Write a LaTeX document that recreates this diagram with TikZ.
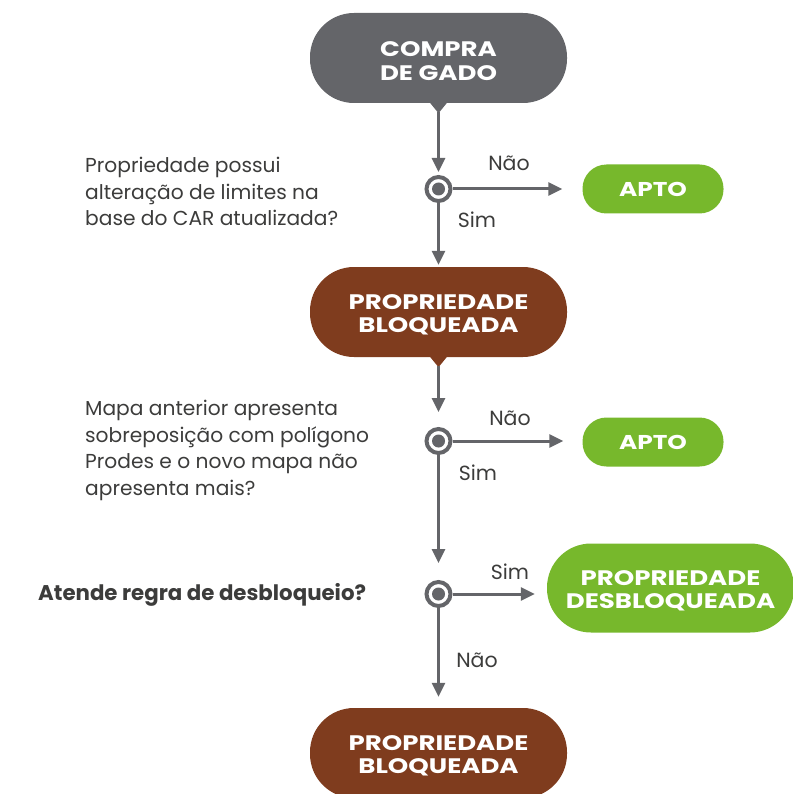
\documentclass[tikz,border=0pt]{standalone}
\usepackage{fontspec}
\setmainfont{Poppins}
\newfontfamily\nodefont[FakeStretch=1.24]{Poppins}
\newcommand\toprule{\rule{0pt}{21pt}}
\usetikzlibrary{arrows.meta,calc}
\definecolor{cgray}{HTML}{646569}
\definecolor{cbrown}{HTML}{7F3C1E}
\definecolor{cgreen}{HTML}{77B82C}
\definecolor{ctext}{HTML}{3C3C3B}
\begin{document}
\begin{tikzpicture}[x=1pt,y=-1pt,
  bubble/.style={rectangle, rounded corners=44pt, minimum width=257pt, minimum height=90pt, inner sep=0pt, text=white, font=\nodefont\fontsize{21}{23.5}\selectfont\bfseries, align=center},
  pill/.style={rectangle, rounded corners=24pt, minimum width=141pt, minimum height=49pt, inner sep=0pt, fill=cgreen, text=white, font=\nodefont\fontsize{20}{23.5}\selectfont\bfseries, align=center},
  arr/.style={draw=cgray, line width=3pt, -{Triangle[length=14pt,width=13pt]}},
  qc/.style={circle, draw=cgray, line width=4pt, fill=white, minimum size=24pt, inner sep=0pt, path picture={\fill[cgray] (path picture bounding box.center) circle (6.5pt);}},
  lab/.style={text=ctext, font=\fontsize{20.2}{26.5}\selectfont, align=left, inner sep=0pt},
  elab/.style={text=ctext, font=\fontsize{20.5}{22}\selectfont, inner sep=0pt},
]
\useasboundingbox (0,0) rectangle (792,794);

% main nodes
\node[bubble, fill=cgray] (c1) at (438.5,58) {\toprule COMPRA\\DE GADO};
\fill[cgray] ($(c1.south)+(-9,-1)$) -- ($(c1.south)+(9,-1)$) -- ($(c1.south)+(0,10)$) -- cycle;
\coordinate (c1tip) at ($(c1.south)+(0,9)$);

\node[qc] (q1) at (438.5,189) {};
\node[pill] (a1) at (653,189) {APTO};

\node[bubble, fill=cbrown] (b1) at (438.5,312) {\toprule PROPRIEDADE\\BLOQUEADA};
\fill[cbrown] ($(b1.south)+(-9,-1)$) -- ($(b1.south)+(9,-1)$) -- ($(b1.south)+(0,10)$) -- cycle;
\coordinate (b1tip) at ($(b1.south)+(0,9)$);

\node[qc] (q2) at (438.5,441) {};
\node[pill] (a2) at (653,442) {APTO};

\node[qc] (q3) at (438.5,594) {};
\node[bubble, fill=cgreen, minimum width=247pt, minimum height=89pt] (d1) at (670.5,588) {\toprule PROPRIEDADE\\DESBLOQUEADA};

\node[bubble, fill=cbrown] (b2) at (438.5,753) {\toprule PROPRIEDADE\\BLOQUEADA};

% connectors
\draw[arr, shorten >=3pt] (c1tip) -- (q1);
\draw[arr, shorten >=20pt] (q1) -- (q1 -| a1.west);
\draw[arr, shorten >=2pt] (q1) -- (b1);
\draw[arr, shorten >=15pt] (b1tip) -- (q2);
\draw[arr, shorten >=19pt] (q2) -- (q2 -| a2.west);
\draw[arr, shorten >=17pt] (q2) -- (q3);
\draw[arr, shorten >=12pt] (q3) -- (q3 -| d1.west);
\draw[arr, shorten >=11pt] (q3) -- (b2);

% edge labels
\node[elab] (n1) at (509,163) {Não};
\node[elab] (s1) at (477,220) {Sim};
\node[elab] (n2) at (510,418) {Não};
\node[elab] (s2) at (478,473) {Sim};
\node[elab] (s3) at (510,572) {Sim};
\node[elab] (n3) at (477,660) {Não};

% question labels
\node[lab, anchor=west] (t1) at (85,191.5) {Propriedade possui\\alteração de limites na\\base do CAR atualizada?};
\node[lab, anchor=west] (t2) at (85,450.5) {Mapa anterior apresenta\\sobreposição com polígono\\Prodes e o novo mapa não\\apresenta mais?};
\node[lab, anchor=west, font=\fontsize{21.3}{22}\selectfont\bfseries] (t3) at (38,595) {Atende regra de desbloqueio?};
\end{tikzpicture}
\end{document}
